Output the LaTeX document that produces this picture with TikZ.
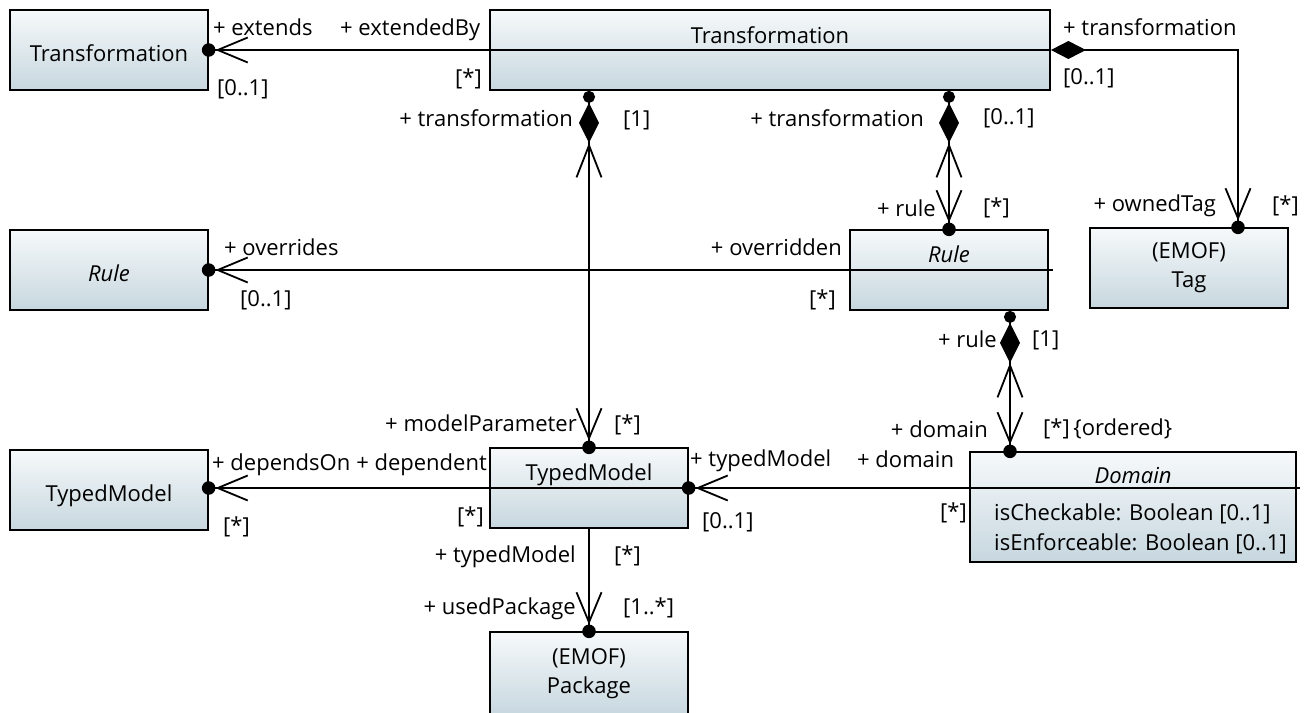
\documentclass[tikz,border=0pt]{standalone}
\usepackage{fontspec}
\setmainfont{Open Sans}
\usepackage{tikz}
\usetikzlibrary{arrows.meta}

\definecolor{boxtop}{RGB}{246,249,250}
\definecolor{boxbot}{RGB}{199,215,223}

\tikzset{
  umlbox/.style={draw, line width=1.8pt, top color=boxtop, bottom color=boxbot,
    minimum width=198pt, minimum height=80pt, inner sep=0pt, align=center},
  simplebox/.style={umlbox, text height=22pt, text depth=0pt},
  lab/.style={inner sep=0pt, anchor=base west},
  labr/.style={inner sep=0pt, anchor=base east},
  assoc/.style={line width=1.8pt},
  nav/.style={-{Straight Barb[length=30pt,width=25pt] Circle[length=13.5pt,sep=-7pt]}},
  compnav/.style={{Circle[length=12pt] Diamond[length=40pt,width=20pt] Straight Barb[length=32pt,width=25pt]}-{Straight Barb[length=30pt,width=25pt] Circle[length=13.5pt,sep=-7pt]}},
  tagcomp/.style={{Diamond[length=35pt,width=18pt]}-{Straight Barb[length=30pt,width=25pt] Circle[length=13.5pt,sep=-7pt]}}
}

\begin{document}
\begin{tikzpicture}[x=1pt,y=-1pt,font=\fontsize{22pt}{29pt}\selectfont]
            \useasboundingbox (0,0) rectangle (1313,712);
            % classes
            \node[simplebox] (transL) at (109,50) {Transformation};
            \node[umlbox, minimum width=560pt] (transM) at (770,50) {};
            \node[simplebox] (ruleL) at (109,270) {\itshape Rule};
            \node[umlbox] (rule) at (949,270) {};
            \node[umlbox] (tag) at (1189,268) {(EMOF)\\Tag};
            \node[simplebox] (tmL) at (109,490) {TypedModel};
            \node[umlbox] (tm) at (589,488) {};
            \node[umlbox, minimum height=84pt] (pkg) at (589,674) {(EMOF)\\Package};
            \node[umlbox, minimum width=326pt, minimum height=110pt] (dom) at (1133,507) {};
            \draw[assoc] (transM.west) -- (transM.east);
            \draw[assoc] (rule.west) -- ([xshift=4pt]rule.east);
            \draw[assoc] (tm.west) -- (tm.east);
            \draw[assoc] (dom.west |- tm.east) -- ([xshift=3pt]dom.east |- tm.east);
            \node[anchor=base] (transMname) at (770,43) {Transformation};
            \node[anchor=base] (rulename) at (949,262) {\itshape Rule};
            \node[anchor=base] (tmname) at (589,480) {TypedModel};
            \node[anchor=base] (domname) at (1133,483) {\itshape Domain};
            \node[lab] (domattrA) at (994,520) {isCheckable: Boolean [0..1]};
            \node[lab] (domattrB) at (994,550) {isEnforceable: Boolean [0..1]};
            % associations
            \draw[assoc, nav] (transM.west) -- (transL.east);
            \draw[assoc, nav] (rule.west) -- (ruleL.east);
            \draw[assoc, nav] (tm.west) -- (tm.west -| tmL.east);
            \draw[assoc, nav] (dom.west |- tm.east) -- (tm.east);
            \draw[assoc, nav] (tm.south) -- (pkg.north);
            \draw[assoc, compnav] (tm.north |- transM.south) -- (tm.north);
            \draw[assoc, compnav] (rule.north |- transM.south) -- (rule.north);
            \draw[assoc, compnav] ([xshift=61pt]rule.south) -- ([xshift=61pt]rule.south |- dom.north);
            \draw[assoc, tagcomp] (transM.east) -| ([xshift=49pt]tag.north);
            % role names and multiplicities
            \node[lab] (extends) at (213,35) {+ extends};
            \node[lab] (extendedBy) at (340,35) {+ extendedBy};
            \node[lab] (extendsM) at (217,95) {[0..1]};
            \node[labr] (extendedByM) at (482,85) {[*]};
            \node[lab] (tagOwner) at (1063,35) {+ transformation};
            \node[lab] (tagOwnerM) at (1063,84) {[0..1]};
            \node[labr] (tmOwner) at (573,126) {+ transformation};
            \node[lab] (tmOwnerM) at (623,126) {[1]};
            \node[labr] (ruleOwner) at (924,126) {+ transformation};
            \node[lab] (ruleOwnerM) at (983,124) {[0..1]};
            \node[labr] (ruleEnd) at (936,216) {+ rule};
            \node[lab] (ruleEndM) at (983,214) {[*]};
            \node[labr] (ownedTag) at (1216,211) {+ ownedTag};
            \node[lab] (ownedTagM) at (1272,212) {[*]};
            \node[lab] (overrides) at (224,255) {+ overrides};
            \node[lab] (overridesM) at (240,306) {[0..1]};
            \node[labr] (overridden) at (842,255) {+ overridden};
            \node[labr] (overriddenM) at (836,306) {[*]};
            \node[labr] (domOwner) at (997,347) {+ rule};
            \node[lab] (domOwnerM) at (1032,346) {[1]};
            \node[labr] (domEnd) at (988,437) {+ domain};
            \node[lab] (domEndM) at (1043,435) {[*]\,\{ordered\}};
            \node[labr] (modelParameter) at (577,431) {+ modelParameter};
            \node[lab] (modelParameterM) at (614,431) {[*]};
            \node[lab] (dependsOn) at (212,470) {+ dependsOn};
            \node[labr] (dependent) at (487,470) {+ dependent};
            \node[lab] (dependsOnM) at (223,533) {[*]};
            \node[labr] (dependentM) at (484,523) {[*]};
            \node[labr] (pkgOwner) at (576,562) {+ typedModel};
            \node[lab] (pkgOwnerM) at (614,562) {[*]};
            \node[labr] (usedPackage) at (576,614) {+ usedPackage};
            \node[lab] (usedPackageM) at (623,614) {[1..*]};
            \node[lab] (typedModel) at (690,466) {+ typedModel};
            \node[lab] (domainEnd) at (857,467) {+ domain};
            \node[lab] (typedModelM) at (702,528) {[0..1]};
            \node[labr] (domainEndM) at (967,519) {[*]};
\end{tikzpicture}
\end{document}
